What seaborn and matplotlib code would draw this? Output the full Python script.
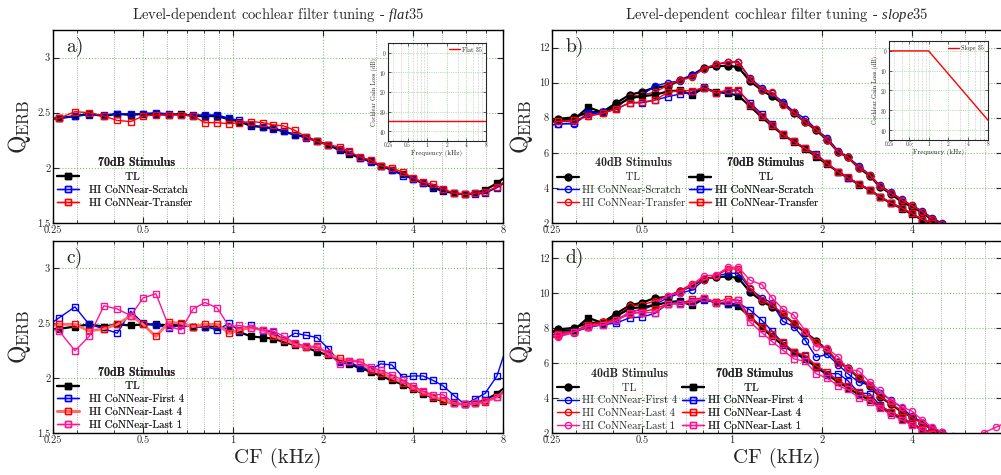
import matplotlib
matplotlib.use("Agg")
import matplotlib.pyplot as plt
import seaborn as sns
from matplotlib.ticker import FixedLocator, FixedFormatter, NullFormatter
from matplotlib.font_manager import FontProperties

sns.set_style("ticks")
plt.rcParams["font.family"] = ["cmr10", "DejaVu Serif"]
plt.rcParams["mathtext.fontset"] = "custom"
plt.rcParams["mathtext.rm"] = "cmr10"
plt.rcParams["mathtext.it"] = "Liberation Serif:italic"
plt.rcParams["mathtext.bf"] = "cmb10"
plt.rcParams["axes.formatter.use_mathtext"] = True
plt.rcParams["axes.unicode_minus"] = False

# characteristic frequencies (kHz)
cf_khz = [0.232, 0.262, 0.296, 0.330, 0.370, 0.410, 0.455, 0.500, 0.552, 0.610,
          0.670, 0.735, 0.805, 0.885, 0.970, 1.050, 1.150, 1.260, 1.360, 1.480,
          1.610, 1.760, 1.910, 2.080, 2.270, 2.440, 2.660, 2.890, 3.120, 3.400,
          3.700, 4.000, 4.320, 4.660, 5.040, 5.490, 5.970, 6.440, 6.960, 7.630, 8.250]

major_cf = [0.25, 0.5, 1, 2, 4, 8]
major_cf_labels = ["0.25", "0.5", "1", "2", "4", "8"]
minor_cf = [0.3, 0.4, 0.6, 0.7, 0.8, 0.9, 3, 5, 6, 7]

# a) flat35, 70 dB
a_tl = [2.44, 2.45, 2.47, 2.49, 2.47, 2.49, 2.48, 2.49, 2.49, 2.48, 2.49, 2.47, 2.47, 2.47,
        2.44, 2.42, 2.38, 2.37, 2.36, 2.33, 2.30, 2.28, 2.24, 2.21, 2.16, 2.13, 2.09, 2.06,
        2.02, 1.98, 1.94, 1.90, 1.86, 1.82, 1.79, 1.77, 1.76, 1.77, 1.80, 1.86, 1.93]
a_scratch = [2.44, 2.45, 2.47, 2.48, 2.48, 2.49, 2.49, 2.49, 2.50, 2.49, 2.48, 2.48, 2.48, 2.48,
             2.45, 2.43, 2.39, 2.37, 2.35, 2.33, 2.30, 2.27, 2.24, 2.21, 2.17, 2.14, 2.09, 2.05,
             2.02, 1.98, 1.93, 1.90, 1.86, 1.83, 1.80, 1.77, 1.76, 1.76, 1.77, 1.82, 1.88]
a_transfer = [2.43, 2.45, 2.51, 2.50, 2.47, 2.43, 2.42, 2.47, 2.48, 2.48, 2.48, 2.47, 2.41, 2.41,
              2.40, 2.41, 2.42, 2.41, 2.39, 2.38, 2.34, 2.28, 2.24, 2.21, 2.19, 2.15, 2.10, 2.07,
              2.02, 2.00, 1.96, 1.91, 1.87, 1.85, 1.81, 1.77, 1.76, 1.77, 1.78, 1.83, 1.89]

# c) flat35, 70 dB, partial retraining
c_first4 = [2.45, 2.55, 2.65, 2.49, 2.45, 2.41, 2.61, 2.50, 2.48, 2.46, 2.48, 2.47, 2.47, 2.44,
            2.50, 2.43, 2.48, 2.43, 2.42, 2.35, 2.41, 2.39, 2.37, 2.27, 2.15, 2.15, 2.10, 2.08,
            2.13, 2.12, 2.01, 2.02, 2.02, 1.98, 1.93, 1.84, 1.76, 1.81, 1.86, 2.02, 2.30]
c_last4 = [2.47, 2.49, 2.49, 2.43, 2.45, 2.49, 2.57, 2.49, 2.38, 2.51, 2.50, 2.47, 2.49, 2.49,
           2.41, 2.44, 2.46, 2.44, 2.38, 2.35, 2.31, 2.28, 2.29, 2.22, 2.18, 2.16, 2.15, 2.07,
           2.05, 2.00, 1.96, 1.91, 1.87, 1.83, 1.80, 1.77, 1.76, 1.77, 1.78, 1.83, 1.90]
c_last1 = [2.48, 2.43, 2.25, 2.38, 2.66, 2.63, 2.57, 2.73, 2.77, 2.47, 2.44, 2.63, 2.69, 2.64,
           2.47, 2.48, 2.46, 2.44, 2.43, 2.38, 2.32, 2.29, 2.28, 2.23, 2.13, 2.16, 2.15, 2.10,
           2.07, 2.03, 1.98, 1.93, 1.88, 1.85, 1.85, 1.77, 1.76, 1.77, 1.79, 1.83, 1.90]

# b) slope35, TL reference (also used in d)
b_tl40 = [7.60, 7.94, 8.02, 8.30, 8.34, 8.84, 9.31, 9.47, 9.73, 9.80, 10.13, 10.42, 10.84, 10.93,
          10.97, 10.88, 10.08, 9.56, 9.22, 8.80, 8.27, 7.75, 7.30, 6.74, 6.04, 5.75, 5.13, 4.69,
          4.08, 3.66, 3.20, 2.93, 2.59, 2.21, 1.95, 1.70, 1.50, 1.30, 1.15, 1.05, 1.00]
b_tl70 = [7.70, 7.85, 7.89, 8.60, 8.30, 8.69, 9.12, 9.22, 9.31, 9.50, 9.56, 9.31, 9.69, 9.47,
          9.39, 9.26, 8.65, 8.02, 7.54, 7.03, 6.63, 6.23, 5.79, 5.35, 4.91, 4.59, 4.19, 3.89,
          3.49, 3.14, 2.82, 2.50, 2.19, 1.98, 1.70, 1.45, 1.25, 1.10, 0.95, 0.85, 0.80]
b_scratch40 = [7.50, 7.65, 7.65, 8.20, 8.30, 8.55, 9.20, 9.30, 9.80, 10.00, 10.10, 10.45, 10.80, 11.05,
               11.15, 11.20, 10.25, 9.70, 9.40, 8.90, 8.35, 7.95, 7.35, 6.85, 6.10, 5.75, 5.25, 4.75,
               4.15, 3.75, 3.35, 3.00, 2.70, 2.30, 2.00, 1.75, 1.50, 1.30, 1.15, 1.05, 1.00]
b_transfer40 = [7.60, 7.80, 7.80, 8.10, 8.25, 8.55, 9.20, 9.30, 9.45, 9.85, 10.15, 10.30, 10.80, 11.05,
                11.20, 11.15, 10.20, 9.60, 9.45, 8.75, 8.30, 7.75, 7.35, 6.75, 6.05, 5.75, 5.15, 4.75,
                4.10, 3.70, 3.30, 3.00, 2.65, 2.25, 1.95, 1.70, 1.50, 1.30, 1.15, 1.05, 1.00]
b_scratch70 = [7.50, 7.65, 7.70, 8.25, 8.30, 8.50, 8.85, 8.85, 9.00, 9.20, 9.35, 9.45, 9.75, 9.40,
               9.50, 9.55, 8.85, 8.20, 7.65, 7.05, 6.65, 6.25, 5.95, 5.40, 4.90, 4.55, 4.20, 3.90,
               3.50, 3.15, 2.85, 2.55, 2.20, 2.00, 1.75, 1.50, 1.30, 1.15, 1.00, 0.90, 0.85]
b_transfer70 = [7.60, 7.80, 7.85, 8.10, 8.25, 8.50, 8.85, 8.90, 9.00, 9.45, 9.55, 9.55, 9.70, 9.40,
                9.60, 9.60, 8.75, 8.10, 7.60, 7.05, 6.65, 6.25, 5.85, 5.40, 4.90, 4.60, 4.20, 3.90,
                3.50, 3.15, 2.85, 2.55, 2.20, 2.00, 1.75, 1.50, 1.30, 1.15, 1.00, 0.90, 0.85]

# d) slope35, partial retraining
d_first4_40 = [7.50, 7.70, 7.80, 8.05, 8.25, 8.40, 8.95, 9.05, 9.35, 9.75, 10.00, 10.20, 10.75, 11.00,
               11.15, 11.15, 10.25, 9.75, 9.45, 8.40, 8.10, 7.30, 6.35, 6.50, 5.90, 5.40, 4.90, 4.75,
               4.30, 3.90, 3.45, 2.95, 2.60, 2.30, 2.03, 1.80, 1.55, 1.35, 1.20, 1.10, 1.00]
d_last4_40 = [7.40, 7.55, 7.80, 8.20, 8.35, 8.70, 9.25, 9.35, 9.55, 9.85, 10.15, 10.55, 10.75, 11.00,
              11.40, 11.40, 10.30, 9.60, 9.35, 8.85, 8.30, 7.80, 7.20, 6.80, 6.00, 5.70, 5.20, 4.75,
              4.10, 3.70, 3.25, 2.90, 2.55, 2.25, 1.95, 1.70, 1.50, 1.30, 1.15, 1.05, 1.00]
d_last1_40 = [7.40, 7.50, 7.75, 8.10, 8.30, 8.45, 8.95, 9.10, 9.45, 9.85, 10.05, 10.50, 11.00, 11.05,
              11.50, 11.50, 10.75, 10.50, 9.75, 9.10, 8.75, 7.85, 6.95, 6.85, 6.35, 5.65, 5.55, 4.90,
              4.45, 3.85, 3.50, 3.25, 2.75, 2.35, 2.07, 1.85, 1.70, 1.75, 2.02, 2.33, 2.60]
d_first4_70 = [7.50, 7.70, 7.80, 8.05, 8.20, 8.30, 8.60, 8.65, 8.85, 9.40, 9.45, 9.55, 9.60, 9.50,
               9.40, 9.45, 9.05, 8.45, 7.85, 7.15, 6.60, 6.40, 5.85, 5.40, 5.40, 5.00, 4.30, 4.25,
               3.60, 3.20, 2.90, 2.55, 2.25, 2.00, 1.75, 1.50, 1.30, 1.15, 1.00, 0.90, 0.85]
d_last4_70 = [7.50, 7.70, 7.80, 8.20, 8.35, 8.50, 8.80, 8.95, 9.10, 9.40, 9.40, 9.65, 9.75, 9.50,
              9.70, 9.60, 8.65, 8.10, 7.65, 7.20, 6.65, 6.45, 5.85, 5.50, 5.00, 4.70, 4.35, 4.00,
              3.55, 3.20, 2.90, 2.55, 2.25, 2.00, 1.75, 1.50, 1.30, 1.15, 1.00, 0.90, 0.85]
d_last1_70 = [7.40, 7.60, 7.80, 8.10, 8.20, 8.45, 8.85, 8.90, 8.90, 9.40, 9.40, 9.50, 9.75, 9.45,
              9.55, 9.60, 8.35, 7.75, 7.25, 6.75, 6.25, 6.10, 5.40, 5.15, 4.70, 4.50, 4.00, 3.80,
              3.45, 3.05, 2.75, 2.45, 2.15, 1.95, 1.70, 1.45, 1.25, 1.10, 0.95, 0.85, 0.80]

# insets: cochlear gain loss profiles
inset_cf = [0.25, 1.0, 8.0]
flat_loss = [35, 35, 35]
slope_loss = [0, 0, 35]

BLUE = "#0000ff"
RED = "#ff0000"
PINK = "#ff1493"
GREEN_GRID = "#79c279"

fig = plt.figure(figsize=(10.01, 4.75), dpi=100)
ax_a = fig.add_axes([0.053, 0.5305, 0.4496, 0.4063])
ax_b = fig.add_axes([0.5514, 0.5305, 0.4496, 0.4063])
ax_c = fig.add_axes([0.053, 0.0884, 0.4496, 0.4042])
ax_d = fig.add_axes([0.5514, 0.0884, 0.4496, 0.4042])


def style_axis(ax, ylim, yticks, ylabels, show_8=True):
    ax.set_xscale("log")
    ax.set_xlim(0.25, 8)
    ax.set_ylim(*ylim)
    ax.xaxis.set_major_locator(FixedLocator(major_cf))
    xl = major_cf_labels if show_8 else major_cf_labels[:-1] + [""]
    ax.xaxis.set_major_formatter(FixedFormatter(xl))
    ax.xaxis.set_minor_locator(FixedLocator(minor_cf))
    ax.xaxis.set_minor_formatter(NullFormatter())
    ax.set_yticks(yticks)
    ax.set_yticklabels(ylabels)
    ax.grid(which="major", color=GREEN_GRID, ls=":", lw=0.8)
    ax.grid(which="minor", axis="x", color="#9a9a9a", ls=":", lw=0.6)
    ax.tick_params(which="both", direction="in", top=True, right=True, labelsize=7.5, pad=2)
    ax.tick_params(which="major", length=4, width=0.8)
    ax.tick_params(which="minor", length=2, width=0.6)
    for s in ax.spines.values():
        s.set_linewidth(1.0)
        s.set_color("black")
    ax.set_xlabel("")
    ax.set_ylabel(r"$\mathrm{Q}_{\mathrm{ERB}}$", fontsize=17, labelpad=3)


def curve(ax, y, color, marker, filled=False, lw=1.0, ms=4.5, line_color=None, label=None):
    sns.lineplot(x=cf_khz, y=y, ax=ax, color=line_color or color, marker=marker, markersize=ms,
                 markerfacecolor=color if filled else "none", markeredgecolor=color,
                 markeredgewidth=1.0, linewidth=lw, label=label, legend=False)
    return ax.lines[-1]


def add_legend(ax, handles, labels, title, x, y, pad, tl_spaces, title_spaces):
    labels = [" " * tl_spaces + labels[0]] + labels[1:]
    leg = ax.legend(handles, labels, title=" " * title_spaces + title,
                    title_fontproperties=FontProperties(family="cmb10", size=8.6),
                    loc="lower left", bbox_to_anchor=(x, y), frameon=False, fontsize=7.8,
                    handlelength=2.0, handletextpad=pad, labelspacing=0.3,
                    borderpad=0, borderaxespad=0)
    ax.add_artist(leg)
    return leg


def add_inset(rect, loss, label):
    axi = fig.add_axes(rect)
    sns.lineplot(x=inset_cf, y=loss, ax=axi, color=RED, linewidth=1.0, label=label, legend=False)
    axi.set_xscale("log")
    axi.set_xlim(0.25, 8)
    axi.set_ylim(45, -5)
    axi.xaxis.set_major_locator(FixedLocator(major_cf))
    axi.xaxis.set_major_formatter(FixedFormatter(major_cf_labels))
    axi.xaxis.set_minor_locator(FixedLocator(minor_cf))
    axi.xaxis.set_minor_formatter(NullFormatter())
    axi.set_yticks([0, 10, 20, 30, 40])
    axi.grid(which="major", color=GREEN_GRID, ls=":", lw=0.5)
    axi.grid(which="minor", axis="x", color="#9a9a9a", ls=":", lw=0.4)
    axi.tick_params(which="both", direction="in", top=True, right=True, labelsize=3.8, pad=1)
    axi.tick_params(which="major", length=2, width=0.5)
    axi.tick_params(which="minor", length=1, width=0.4)
    for s in axi.spines.values():
        s.set_linewidth(0.8)
    axi.set_xlabel("Frequency (kHz)", fontsize=5, labelpad=1)
    axi.set_ylabel("Cochlear Gain Loss (dB)", fontsize=4.5, labelpad=1)
    axi.legend(loc="upper right", fontsize=4.5, frameon=False, handlelength=1.8,
               handletextpad=0.4, borderaxespad=0.2)
    return axi


TITLE = "Level-dependent cochlear filter tuning - "

# ---- a)
style_axis(ax_a, (1.5, 3.25), [1.5, 2, 2.5, 3], ["1.5", "2", "2.5", "3"])
h1 = curve(ax_a, a_tl, "black", "s", filled=True, lw=1.6, ms=5)
h2 = curve(ax_a, a_scratch, BLUE, "s")
h3 = curve(ax_a, a_transfer, RED, "s")
add_legend(ax_a, [h1, h2, h3], ["TL", "HI CoNNear-Scratch", "HI CoNNear-Transfer"],
           "70dB Stimulus", 0.009, 0.08, 0.9, 10, 6)
ax_a.text(0.03, 0.91, "a)", transform=ax_a.transAxes, fontsize=14, va="center")
ax_a.set_title(TITLE + r"$\mathit{flat35}$", fontsize=10.5, pad=8)

# ---- b)
style_axis(ax_b, (2, 13), [2, 4, 6, 8, 10, 12], ["2", "4", "6", "8", "10", "12"], show_8=False)
b1 = curve(ax_b, b_tl40, "black", "o", filled=True, lw=1.6, ms=5)
b2 = curve(ax_b, b_scratch40, BLUE, "o")
b3 = curve(ax_b, b_transfer40, RED, "o")
b4 = curve(ax_b, b_tl70, "black", "s", filled=True, lw=1.6, ms=5)
b5 = curve(ax_b, b_scratch70, BLUE, "s")
b6 = curve(ax_b, b_transfer70, RED, "s")
add_legend(ax_b, [b1, b2, b3], ["TL", "HI CoNNear-Scratch", "HI CoNNear-Transfer"],
           "40dB Stimulus", 0.011, 0.078, 0.35, 12, 6)
add_legend(ax_b, [b4, b5, b6], ["TL", "HI CoNNear-Scratch", "HI CoNNear-Transfer"],
           "70dB Stimulus", 0.305, 0.078, 0.35, 12, 6)
ax_b.text(0.03, 0.91, "b)", transform=ax_b.transAxes, fontsize=14, va="center")
ax_b.set_title(TITLE + r"$\mathit{slope35}$", fontsize=10.5, pad=8)

# ---- c)
style_axis(ax_c, (1.5, 3.25), [1.5, 2, 2.5, 3], ["1.5", "2", "2.5", "3"])
c1 = curve(ax_c, a_tl, "black", "s", filled=True, lw=1.6, ms=5)
c2 = curve(ax_c, c_first4, BLUE, "s")
c3 = curve(ax_c, c_last4, RED, "s", lw=2.0, line_color="#ff6a6a")
c4 = curve(ax_c, c_last1, PINK, "s")
add_legend(ax_c, [c1, c2, c3, c4],
           ["TL", "HI CoNNear-First 4", "HI CoNNear-Last 4", "HI CoNNear-Last 1"],
           "70dB Stimulus", 0.009, 0.016, 0.9, 10, 8)
ax_c.text(0.03, 0.91, "c)", transform=ax_c.transAxes, fontsize=14, va="center")
ax_c.set_xlabel("CF (kHz)", fontsize=15, labelpad=2)

# ---- d)
style_axis(ax_d, (2, 13), [2, 4, 6, 8, 10, 12], ["2", "4", "6", "8", "10", "12"], show_8=False)
d1 = curve(ax_d, b_tl40, "black", "o", filled=True, lw=1.6, ms=5)
d2 = curve(ax_d, d_first4_40, BLUE, "o")
d3 = curve(ax_d, d_last4_40, RED, "o")
d4 = curve(ax_d, d_last1_40, PINK, "o")
d5 = curve(ax_d, b_tl70, "black", "s", filled=True, lw=1.6, ms=5)
d6 = curve(ax_d, d_first4_70, BLUE, "s")
d7 = curve(ax_d, d_last4_70, RED, "s")
d8 = curve(ax_d, d_last1_70, PINK, "s")
labels_d = ["TL", "HI CoNNear-First 4", "HI CoNNear-Last 4", "HI CoNNear-Last 1"]
add_legend(ax_d, [d1, d2, d3, d4], labels_d, "40dB Stimulus", 0.011, 0.01, 0.35, 11, 6)
add_legend(ax_d, [d5, d6, d7, d8], labels_d, "70dB Stimulus", 0.29, 0.01, 0.35, 10, 6)
ax_d.text(0.03, 0.91, "d)", transform=ax_d.transAxes, fontsize=14, va="center")
ax_d.set_xlabel("CF (kHz)", fontsize=15, labelpad=2)

# ---- insets
add_inset([0.3876, 0.7032, 0.0979, 0.2063], flat_loss, "Flat 35")
add_inset([0.8881, 0.7053, 0.0989, 0.2084], slope_loss, "Slope 35")

fig.savefig("out.png", dpi=100)
